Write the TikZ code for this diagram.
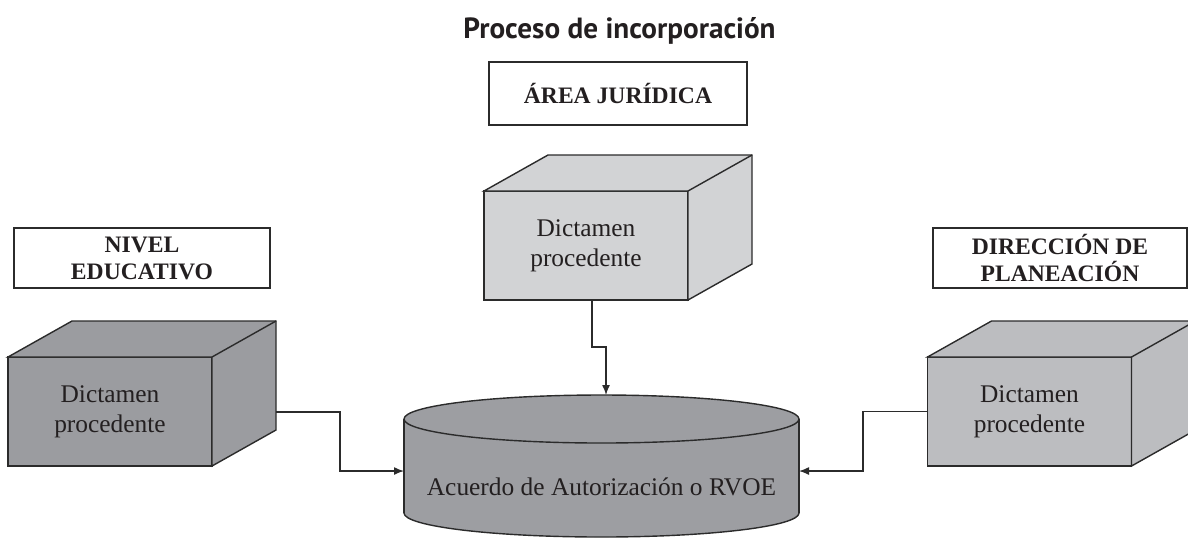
\documentclass[tikz,border=0pt]{standalone}
\usepackage{fontspec}
\setmainfont{Liberation Serif}
\newfontfamily\titulofont{PT Sans}
\usepackage{tikz}
\usetikzlibrary{positioning,arrows.meta,calc}

\begin{document}
\begin{tikzpicture}
[x=0.5pt,y=-0.5pt,line join=miter,
cara/.style={draw=linea,line width=0.7pt},
frente/.style={cara,minimum width=102pt,minimum height=54.5pt,inner sep=0pt,outer sep=0pt,
  align=center,text=texto,font=\fontsize{12.7}{15}\selectfont},
etiqueta/.style={draw=linea,line width=0.7pt,inner sep=0pt,outer sep=0pt,align=center,
  text=texto,font=\bfseries\fontsize{11.8}{13.5}\selectfont},
flecha/.style={draw=linea,line width=0.7pt,-{Latex[length=5pt,width=4pt]}}]
% Colors
\definecolor{linea}{HTML}{2B2B2B}
\definecolor{texto}{HTML}{231F20}
\definecolor{grisoscuro}{HTML}{9B9CA0}
\definecolor{grisclaro}{HTML}{D2D3D5}
\definecolor{grismedio}{HTML}{BCBDC0}
\definecolor{griscil}{HTML}{9D9EA2}
\clip (0,0) rectangle (1188,538);
% Title and labels
\node[text=texto,font=\titulofont\bfseries\fontsize{14.6}{16}\selectfont] (titulo) at (619.5,31) {Proceso de incorporación};
\node[etiqueta,minimum width=129pt,minimum height=31.5pt] (juridica) at (618,93.5) {ÁREA JURÍDICA};
\node[etiqueta,minimum width=128pt,minimum height=30pt] (nivel) at (142,258) {NIVEL\\EDUCATIVO};
\node[etiqueta,minimum width=127pt,minimum height=30pt] (planeacion) at (1060,258) {DIRECCIÓN DE\\PLANEACIÓN};
% The boxes
\foreach \nombre/\x/\y/\tono in {izq/110/411.5/grisoscuro, centro/586/245.5/grisclaro, der/1029.5/411.5/grismedio}
{
\node[frente,fill=\tono] (\nombre) at (\x,\y) {Dictamen\\procedente};
\filldraw[cara,fill=\tono] (\nombre.north west) -- ++(64,-36) -- ++(204,0) -- ++(0,109)
  -- (\nombre.south east) -- (\nombre.north east) -- cycle;
\draw[cara] (\nombre.north east) -- ++(64,-36);
}
% The cylinder
\filldraw[cara,fill=griscil] (601.5,513) ellipse [x radius=197.5,y radius=24];
\fill[griscil] (404,419) rectangle (799,513);
\draw[cara] (404,419) -- (404,513) (799,419) -- (799,513);
\filldraw[cara,fill=griscil] (601.5,419) ellipse [x radius=197.5,y radius=24];
\node[text=texto,font=\fontsize{12.7}{15}\selectfont] (acuerdo) at (601.5,487) {Acuerdo de Autorización o RVOE};
\coordinate (cil-arriba) at (606,395);
\coordinate (cil-izq) at (404,471);
\coordinate (cil-der) at (799,471);
% Arrows
\draw[flecha] ($(izq.south east)+(64,-54)$) -| (340,471) -- (cil-izq);
\draw[flecha] ($(centro.south)+(6,0)$) |- (606,347) -- (cil-arriba);
\draw[flecha] (der.west) -| (863,471) -- (cil-der);
\end{tikzpicture}
\end{document}
